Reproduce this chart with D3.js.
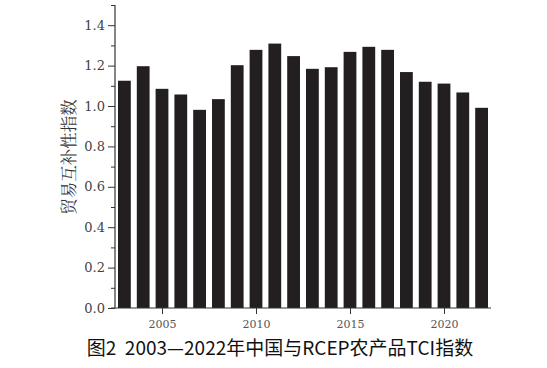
<!DOCTYPE html>
<html>
<head>
<meta charset="utf-8">
<script src="https://cdn.jsdelivr.net/npm/d3@7"></script>
<style>
  body { margin: 0; background: #fff; }
  svg { display: block; }
</style>
</head>
<body>
<div id="chart"></div>
<script>
// years and TCI values
const years = [2003, 2004, 2005, 2006, 2007, 2008, 2009, 2010, 2011, 2012,
               2013, 2014, 2015, 2016, 2017, 2018, 2019, 2020, 2021, 2022];
const tci = [1.125, 1.197, 1.085, 1.057, 0.981, 1.034, 1.202, 1.278, 1.309, 1.247,
             1.184, 1.192, 1.268, 1.293, 1.278, 1.168, 1.120, 1.111, 1.067, 0.991];
const xTicks = [2005, 2010, 2015, 2020];
const yTicks = [0, 0.2, 0.4, 0.6, 0.8, 1.0, 1.2, 1.4];
const yMinorTicks = [0.1, 0.3, 0.5, 0.7, 0.9, 1.1, 1.3, 1.5];
const yLabel = '贸易互补性指数';
const caption = '图2  2003—2022年中国与RCEP农产品TCI指数';

const width = 547, height = 368;
const margin = {top: 5, right: 56, bottom: 60, left: 115};
const w = width - margin.left - margin.right;
const h = height - margin.top - margin.bottom;
const serif = "'DejaVu Serif', 'Liberation Serif', serif";

const svg = d3.select('#chart').append('svg')
    .attr('width', width)
    .attr('height', height);

const chart = svg.append('g')
    .attr('transform', `translate(${margin.left},${margin.top})`);

const x = d3.scaleLinear().domain([2002.5, 2022.5]).range([0, w]);
const y = d3.scaleLinear().domain([0, 1.5]).range([h, 0]);
const barW = (x(1) - x(0)) * 0.68;

chart.selectAll('.bar')
    .data(years)
  .join('rect')
    .attr('class', 'bar')
    .attr('x', (d) => x(d) - barW / 2)
    .attr('width', barW)
    .attr('y', (d, i) => y(tci[i]))
    .attr('height', (d, i) => h - y(tci[i]))
    .attr('fill', '#231f20');

// minor y ticks
chart.append('g')
    .call(d3.axisLeft(y).tickValues(yMinorTicks).tickSize(4).tickFormat(''))
    .call(g => g.select('.domain').remove())
    .selectAll('line').attr('stroke', '#333');

const yAxisG = chart.append('g')
    .call(d3.axisLeft(y).tickValues(yTicks).tickSize(7).tickPadding(3).tickFormat(d3.format('.1f')));
yAxisG.select('.domain').attr('d', `M0,${h}V0`).attr('stroke', '#333').attr('stroke-width', 1.2);
yAxisG.selectAll('line').attr('stroke', '#333');
yAxisG.selectAll('text')
    .style('font-family', serif)
    .style('font-size', '13px')
    .attr('fill', '#444');

const xAxisG = chart.append('g')
    .attr('transform', `translate(0,${h})`)
    .call(d3.axisBottom(x).tickValues(xTicks).tickSize(6).tickPadding(6).tickFormat(d3.format('d')));
xAxisG.select('.domain').attr('d', `M-4,0H${w}`).attr('stroke', '#333').attr('stroke-width', 1.2);
xAxisG.selectAll('line').attr('stroke', '#333');
xAxisG.selectAll('text')
    .style('font-family', serif)
    .style('font-size', '11px')
    .attr('fill', '#555');

svg.append('text')
    .attr('transform', `translate(75,157) rotate(-90)`)
    .attr('text-anchor', 'middle')
    .attr('font-family', '"Noto Serif CJK SC", "Noto Sans CJK SC", serif')
    .attr('font-size', 16.5)
    .attr('fill', '#333')
    .text(yLabel);

svg.append('text')
    .attr('x', 280)
    .attr('y', 355)
    .attr('text-anchor', 'middle')
    .attr('font-family', '"Noto Sans CJK SC", sans-serif')
    .attr('font-size', 19)
    .attr('fill', '#111')
    .style('white-space', 'pre')
    .text(caption);
</script>
</body>
</html>
